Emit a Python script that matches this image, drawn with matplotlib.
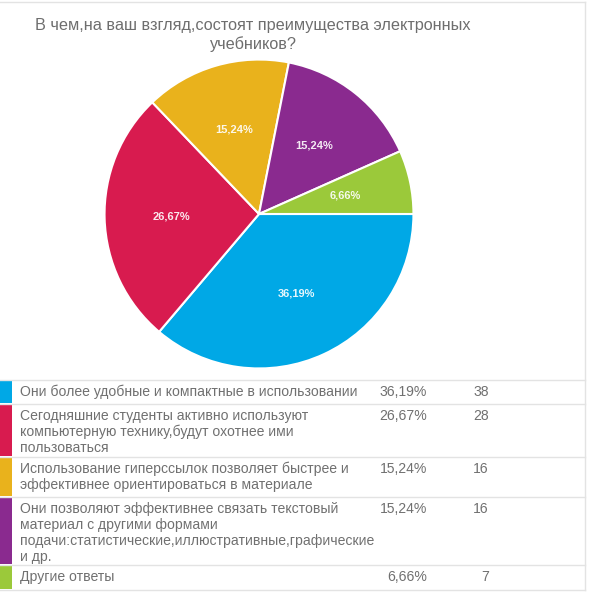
import matplotlib
matplotlib.use("Agg")
import matplotlib.pyplot as plt
import numpy as np
from matplotlib.patches import Rectangle
from matplotlib.lines import Line2D

plt.rcParams['font.family'] = ['Liberation Sans', 'DejaVu Sans']

title = "В чем,на ваш взгляд,состоят преимущества электронных\nучебников?"
answers = [
    "Они более удобные и компактные в использовании",
    "Сегодняшние студенты активно используют\nкомпьютерную технику,будут охотнее ими\nпользоваться",
    "Использование гиперссылок позволяет быстрее и\nэффективнее ориентироваться в материале",
    "Они позволяют эффективнее связать текстовый\nматериал с другими формами\nподачи:статистические,иллюстративные,графические\nи др.",
    "Другие ответы",
]
percents = [36.19, 26.67, 15.24, 15.24, 6.66]
counts = [38, 28, 16, 16, 7]
colors = ["#00a8e6", "#d81b4f", "#e9b21c", "#8a2a8f", "#9bc93a"]

W, H = 590, 600
fig = plt.figure(figsize=(W / 100, H / 100), dpi=100)


def fx(x):
    return x / W


def fy(y):
    return 1 - y / H


# pie
cx, cy, r = 259, 214, 156
ax = fig.add_axes([fx(cx - r), fy(cy + r), 2 * r / W, 2 * r / H])
labels_pct = [("%.2f%%" % p).replace(".", ",") for p in percents]
wedges, _ = ax.pie(percents, colors=colors, startangle=0, counterclock=False,
                   wedgeprops=dict(edgecolor="white", linewidth=1.5))
for w, lab in zip(wedges, labels_pct):
    ang = np.deg2rad((w.theta1 + w.theta2) / 2)
    ax.text(0.57 * np.cos(ang), 0.57 * np.sin(ang), lab, ha="center", va="center",
            color="white", fontsize=8, fontweight="bold", alpha=0.9)
ax.set_xlim(-1.01, 1.01)
ax.set_ylim(-1.01, 1.01)
ax.set_aspect("equal")
ax.axis("off")

fig.text(fx(253), fy(35), title, ha="center", va="center", fontsize=11.7,
         color="#6e6e6e", linespacing=1.3)

# table
bounds = [380, 404, 457, 497, 565, 590]
line_col = "#e3e3e3"
for b in bounds:
    fig.add_artist(Line2D([fx(0), fx(585)], [fy(b), fy(b)], color=line_col, lw=1))
fig.add_artist(Line2D([fx(585), fx(585)], [fy(2), fy(590)], color=line_col, lw=1))
fig.add_artist(Line2D([fx(0), fx(585)], [fy(2), fy(2)], color=line_col, lw=1))

txt_col = "#707070"
for i, (txt, pc, n, c) in enumerate(zip(answers, labels_pct, counts, colors)):
    top, bot = bounds[i], bounds[i + 1]
    fig.add_artist(Rectangle((fx(0), fy(bot - 1)), fx(12), (bot - top - 2) / H,
                             color=c, lw=0))
    ytxt = fy(top + 5)
    fig.text(fx(20), ytxt, txt, ha="left", va="top", fontsize=10.1,
             color=txt_col, linespacing=1.18)
    fig.text(fx(427), ytxt, pc, ha="right", va="top", fontsize=10.1, color=txt_col)
    fig.text(fx(489), ytxt, str(n), ha="right", va="top", fontsize=10.1, color=txt_col)

fig.savefig("out.png", dpi=100)
